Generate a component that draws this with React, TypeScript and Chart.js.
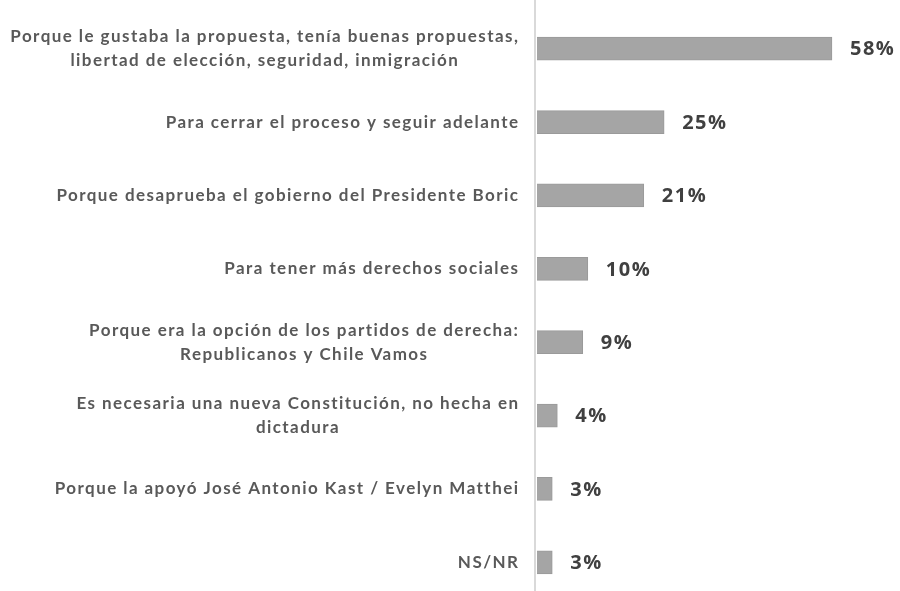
import React, { useEffect, useRef } from "react";
import { Chart, registerables } from "chart.js";

Chart.register(...registerables);

const categories: (string | string[])[] = [
  ["Porque le gustaba la propuesta, tenía buenas propuestas,", "libertad de elección, seguridad, inmigración"],
  "Para cerrar el proceso y seguir adelante",
  "Porque desaprueba el gobierno del Presidente Boric",
  "Para tener más derechos sociales",
  ["Porque era la opción de los partidos de derecha:", "Republicanos y Chile Vamos"],
  ["Es necesaria una nueva Constitución, no hecha en", "dictadura"],
  "Porque la apoyó José Antonio Kast / Evelyn Matthei",
  "NS/NR",
];
const values: number[] = [58, 25, 21, 10, 9, 4, 3, 3];
const valueLabels: string[] = ["58%", "25%", "21%", "10%", "9%", "4%", "3%", "3%"];

const LABEL_FONT = "bold 17px Lato";
const VALUE_FONT = "bold 20px 'Open Sans'";
const FIRST_LINE_TARGET = 509;

const labelPlugin = {
  id: "customLabels",
  afterDatasetsDraw(chart: any) {
    const ctx = chart.ctx;
    const yScale = chart.scales.y;
    const xScale = chart.scales.x;
    const x0 = xScale.getPixelForValue(0);
    ctx.save();
    // axis line
    ctx.strokeStyle = "#d9d9d9";
    ctx.lineWidth = 2;
    ctx.beginPath();
    ctx.moveTo(x0 - 2, 0);
    ctx.lineTo(x0 - 2, chart.height);
    ctx.stroke();

    // category labels
    ctx.font = LABEL_FONT;
    ctx.letterSpacing = "0px";
    const ref = (categories[0] as string[])[0];
    const natural = ctx.measureText(ref).width;
    const ls = Math.max(0, (FIRST_LINE_TARGET - natural) / ref.length);
    ctx.letterSpacing = ls.toFixed(2) + "px";
    ctx.fillStyle = "#595959";
    ctx.textAlign = "center";
    ctx.textBaseline = "middle";
    const rightEdge = x0 - 19;
    categories.forEach((cat, i) => {
      const lines = Array.isArray(cat) ? cat : [cat];
      const yc = yScale.getPixelForValue(i);
      const maxW = Math.max(...lines.map((l) => ctx.measureText(l).width - ls));
      const cx = rightEdge - maxW / 2;
      const lh = 24;
      lines.forEach((l, j) => {
        const y = yc + (j - (lines.length - 1) / 2) * lh;
        ctx.fillText(l, cx + ls / 2, y);
      });
    });

    // value labels
    ctx.font = VALUE_FONT;
    ctx.letterSpacing = "1.5px";
    ctx.fillStyle = "#404040";
    ctx.textAlign = "left";
    const meta = chart.getDatasetMeta(0);
    meta.data.forEach((bar: any, i: number) => {
      ctx.fillText(valueLabels[i], bar.x + 18, bar.y + 1);
    });
    ctx.restore();
  },
};

export default function App() {
  const ref = useRef<HTMLCanvasElement>(null);
  useEffect(() => {
    if (!ref.current) return;
    const chart = new Chart(ref.current, {
      type: "bar",
      data: {
        labels: categories.map((c) => (Array.isArray(c) ? c.join(" ") : c)),
        datasets: [
          {
            data: values,
            backgroundColor: "#a5a5a5",
            borderColor: "#9a9a9a",
            borderWidth: 1,
            barThickness: 23,
          },
        ],
      },
      options: {
        indexAxis: "y",
        animation: false,
        responsive: false,
        layout: { padding: { left: 537, right: 7, top: 12, bottom: 0 } },
        plugins: { legend: { display: false }, tooltip: { enabled: false } },
        scales: {
          x: { display: false, min: 0, max: 70 },
          y: { display: false },
        },
      },
      plugins: [labelPlugin],
    });
    return () => chart.destroy();
  }, []);
  return (
    <div style={{ position: "absolute", left: 0, top: 0, width: 900, height: 591, overflow: "hidden", background: "#fff" }}>
      <canvas ref={ref} width={900} height={599} />
    </div>
  );
}
